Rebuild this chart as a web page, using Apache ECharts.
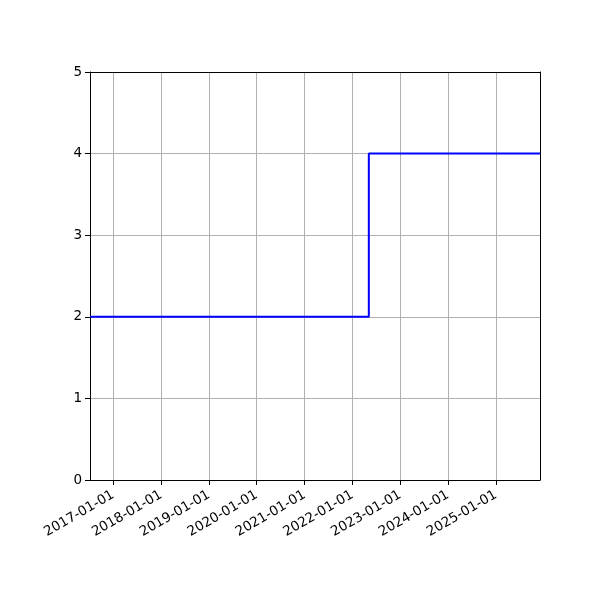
<!DOCTYPE html>
<html>
<head>
<meta charset="utf-8">
<script src="https://cdn.jsdelivr.net/npm/echarts@6/dist/echarts.min.js"></script>
<style>
  html, body { margin: 0; padding: 0; background: #fff; }
  #chart { width: 600px; height: 600px; }
</style>
</head>
<body>
<div id="chart"></div>
<script>
// step points (value holds until next date)
var dates = ['2016-07-07', '2022-05-06', '2025-12-03'];
var values = [2, 4, 4];

var xMin = '2016-07-07';
var xMax = '2025-12-03';
var yTicks = [0, 1, 2, 3, 4, 5];

var DAY = 86400000;

var data = [];
for (var i = 0; i < dates.length; i++) {
    data.push([dates[i], values[i]]);
}

var chart = echarts.init(document.getElementById('chart'));

var labelFont = { color: '#000', fontFamily: 'DejaVu Sans', fontSize: 13.5 };

var option = {
    animation: false,
    grid: {
        left: 90, right: 60, top: 72, bottom: 120,
        containLabel: false
    },
    xAxis: [{
        type: 'time',
        min: xMin,
        max: xMax,
        minInterval: 365 * DAY,
        maxInterval: 366 * DAY,
        axisLine: { show: true, onZero: false, lineStyle: { color: '#000', width: 1 } },
        axisTick: { show: true, length: 5, lineStyle: { color: '#000' } },
        splitLine: { show: true, lineStyle: { color: '#b0b0b0', width: 1 } },
        axisLabel: Object.assign({
            rotate: 30,
            formatter: '{yyyy}-{MM}-{dd}',
            margin: 14,
            showMinLabel: false,
            showMaxLabel: false
        }, labelFont)
    }, {
        // top spine
        type: 'time',
        position: 'top',
        min: xMin,
        max: xMax,
        axisLine: { show: true, onZero: false, lineStyle: { color: '#000', width: 1 } },
        axisTick: { show: false },
        axisLabel: { show: false },
        splitLine: { show: false }
    }],
    yAxis: [{
        type: 'value',
        min: yTicks[0],
        max: yTicks[yTicks.length - 1],
        interval: 1,
        axisLine: { show: true, onZero: false, lineStyle: { color: '#000', width: 1 } },
        axisTick: { show: true, length: 5, lineStyle: { color: '#000' } },
        splitLine: { show: true, lineStyle: { color: '#b0b0b0', width: 1 } },
        axisLabel: Object.assign({ margin: 8 }, labelFont)
    }, {
        // right spine
        type: 'value',
        position: 'right',
        min: yTicks[0],
        max: yTicks[yTicks.length - 1],
        interval: 1,
        axisLine: { show: true, onZero: false, lineStyle: { color: '#000', width: 1 } },
        axisTick: { show: false },
        axisLabel: { show: false },
        splitLine: { show: false }
    }],
    series: [{
        type: 'line',
        step: 'end',
        data: data,
        symbol: 'none',
        lineStyle: { color: '#0000ff', width: 2 }
    }]
};

chart.setOption(option);
</script>
</body>
</html>
